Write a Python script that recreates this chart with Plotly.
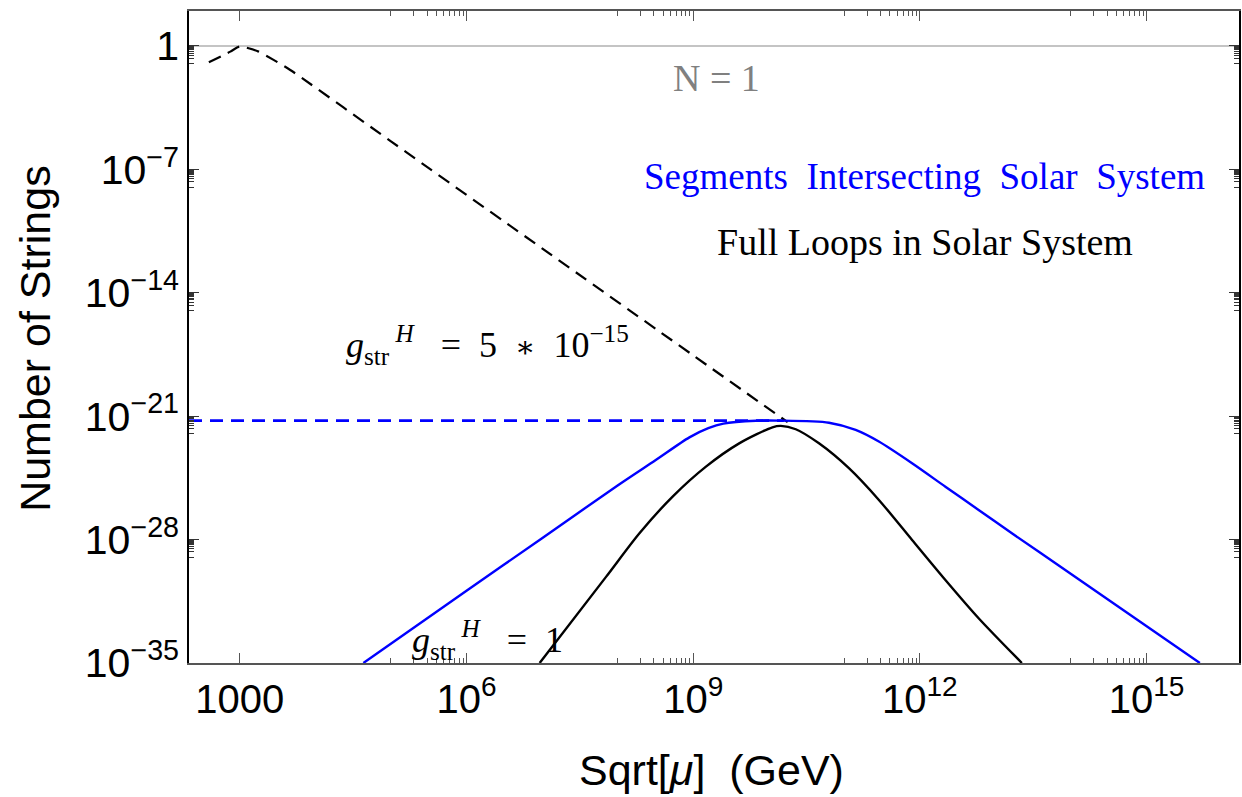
import numpy as np
import plotly.graph_objects as go

# ---- curve data (log10 of Sqrt[mu] in GeV, log10 of number of strings) ----
seg_lx = [4.635, 6.0, 7.0, 8.0, 8.5, 8.95, 9.2, 9.4, 9.83, 10.137,
          10.797, 11.150, 11.457, 11.897, 12.338, 12.778, 13.218, 13.570, 15.706]
seg_ly = [-35.0, -30.9, -27.92, -24.93, -23.5, -22.2, -21.68, -21.42, -21.26, -21.25,
          -21.37, -21.78, -22.44, -23.67, -25.00, -26.32, -27.64, -28.68, -35.0]

loop_lx = [6.968, 7.849, 8.289, 8.728, 9.169, 9.609, 10.049, 10.160, 10.358,
           10.665, 11.061, 11.458, 11.897, 12.338, 12.778, 13.350]
loop_ly = [-35.0, -30.10, -27.64, -25.56, -23.86, -22.54, -21.63, -21.55, -21.74,
           -22.54, -23.95, -25.75, -28.02, -30.29, -32.46, -35.0]

# small coupling (g_str^H = 5*10^-15), full loops
loop_small_lx = [2.59, 2.874, 3.0, 3.116, 3.248, 3.446, 3.667, 5.0, 7.0, 9.0, 10.25]
loop_small_ly = [-0.92, -0.32, -0.02, -0.13, -0.32, -0.79, -1.36, -5.41, -11.48, -17.55, -21.34]

# small coupling, segments: flat level
seg_small_lx = [2.327, 10.2]
seg_small_ly = [-21.25, -21.25]

# N = 1 reference level
n1_lx = [2.327, 16.224]
n1_ly = [0.0, 0.0]

x_range = [2.327, 16.224]
y_range = [-35.0, 1.985]

x_major = [1e3, 1e6, 1e9, 1e12, 1e15]
x_major_text = ["1000", "10<sup>6</sup>", "10<sup>9</sup>", "10<sup>12</sup>", "10<sup>15</sup>"]
y_major = [1.0, 1e-7, 1e-14, 1e-21, 1e-28, 1e-35]
y_major_text = ["1", "10<sup>\u22127</sup>", "10<sup>\u221214</sup>", "10<sup>\u221221</sup>",
                "10<sup>\u221228</sup>", "10<sup>\u221235</sup>"]

x_minor = [m * 10.0 ** d for d in (5, 8, 11, 14) for m in range(1, 10)]
y_minor = [m * 10.0 ** (-7 * k - 1) for k in range(5) for m in range(1, 10)]


def pw(v):
    return list(10.0 ** np.array(v, dtype=float))


fig = go.Figure()

fig.add_trace(go.Scatter(x=pw(n1_lx), y=pw(n1_ly), mode="lines",
                         line=dict(color="#8a8a8a", width=1.2), hoverinfo="skip"))
fig.add_trace(go.Scatter(x=pw(seg_small_lx), y=pw(seg_small_ly), mode="lines",
                         line=dict(color="#0000ff", width=2.6, dash="13px,8px")))
fig.add_trace(go.Scatter(x=pw(loop_small_lx), y=pw(loop_small_ly), mode="lines",
                         line=dict(color="black", width=2.2, dash="13px,8px",
                                   shape="spline", smoothing=0.6)))
fig.add_trace(go.Scatter(x=pw(seg_lx), y=pw(seg_ly), mode="lines",
                         line=dict(color="#0000ff", width=2.4, shape="spline", smoothing=0.8)))
fig.add_trace(go.Scatter(x=pw(loop_lx), y=pw(loop_ly), mode="lines",
                         line=dict(color="black", width=2.4, shape="spline", smoothing=0.8)))

sans = "Liberation Sans, Arial, sans-serif"
serif = "Liberation Serif, Times New Roman, serif"

L, R, T, B = 188.5, 1.0, 11.0, 134.0
W, H = 1242, 797
pw_px = W - L - R
ph_px = H - T - B


def px(x):
    return (x - L) / pw_px


def py(y):
    return (H - B - y) / ph_px


NB = "\u00a0"
star = '<span style="font-family:DejaVu Serif;font-size:30px">\u2217</span>'
annotations = [
    dict(text="N = 1", x=px(717), y=py(78), font=dict(family=serif, size=38, color="#808080"),
         xanchor="center", yanchor="middle"),
    dict(text=f"Segments{NB} Intersecting{NB} Solar{NB} System", x=px(926), y=py(177),
         font=dict(family=serif, size=37, color="#0000ff"), xanchor="center", yanchor="middle"),
    dict(text="Full Loops in Solar System", x=px(926), y=py(242),
         font=dict(family=serif, size=38, color="black"), xanchor="center", yanchor="middle"),
    dict(text=f"<i>g</i><sub>str</sub><sup> <i>H</i></sup>{NB}{NB} ={NB} 5{NB} {star}{NB} 10<sup>\u221215</sup>",
         x=px(344), y=py(345), font=dict(family=serif, size=36, color="black"),
         xanchor="left", yanchor="middle"),
    dict(text=f"<i>g</i><sub>str</sub><sup> <i>H</i></sup>{NB}{NB} ={NB} 1",
         x=px(410), y=py(640), font=dict(family=serif, size=36, color="black"),
         xanchor="left", yanchor="middle"),
    dict(text=f"Sqrt[<i>\u03bc</i>]{NB} (GeV)", x=px(712), y=py(770),
         font=dict(family=sans, size=43, color="black"), xanchor="center", yanchor="middle"),
    dict(text="Number of Strings", x=px(34), y=py(338), textangle=-90,
         font=dict(family=sans, size=43, color="black"), xanchor="center", yanchor="middle"),
]
for a in annotations:
    a.update(xref="paper", yref="paper", showarrow=False)

fig.update_layout(
    width=W, height=H,
    margin=dict(l=L, r=R, t=T, b=B, pad=0),
    paper_bgcolor="white", plot_bgcolor="white",
    showlegend=False,
    annotations=annotations,
    xaxis=dict(type="log", range=x_range, showgrid=False, zeroline=False,
               showline=True, linecolor="#555555", linewidth=1.5, mirror="ticks",
               ticks="inside", ticklen=10, tickwidth=1, tickcolor="#555555",
               tickmode="array", tickvals=x_major, ticktext=x_major_text,
               tickfont=dict(family=sans, size=40, color="black"),
               minor=dict(tickmode="array", tickvals=x_minor, ticks="inside",
                          ticklen=5, tickwidth=1, tickcolor="#555555", showgrid=False)),
    yaxis=dict(type="log", range=y_range, showgrid=False, zeroline=False,
               showline=True, linecolor="black", linewidth=1.5, mirror="ticks",
               ticks="inside", ticklen=10, tickwidth=1, tickcolor="#333333",
               tickmode="array", tickvals=y_major, ticktext=y_major_text,
               tickfont=dict(family=sans, size=41, color="black"),
               minor=dict(tickmode="array", tickvals=y_minor, ticks="inside",
                          ticklen=5, tickwidth=1, tickcolor="#333333", showgrid=False)),
)

fig.write_html("out.html")
